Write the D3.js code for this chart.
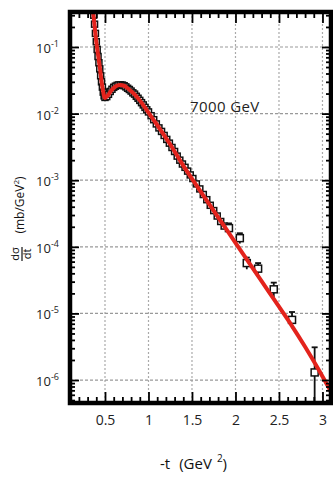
<!DOCTYPE html>
<html>
<head>
<meta charset="utf-8">
<script src="https://cdn.jsdelivr.net/npm/d3@7"></script>
<style>
  body { margin: 0; background: #fff; }
  svg { display: block; font-family: "Open Sans", sans-serif; }
</style>
</head>
<body>
<svg id="chart" width="333" height="477"></svg>
<script>
// tick values
const xMajor = [0.5, 1, 1.5, 2, 2.5, 3];
const xLabels = ["0.5", "1", "1.5", "2", "2.5", "3"];
const yExponents = [-1, -2, -3, -4, -5, -6];

// model curve (red)
const modelT = [0.33, 0.36, 0.40, 0.44, 0.47, 0.50, 0.53, 0.57, 0.62, 0.67, 0.72, 0.78, 0.84, 0.90, 0.98, 1.06, 1.132, 1.247, 1.38, 1.511, 1.70, 1.90, 2.10, 2.30, 2.50, 2.65, 2.80, 2.95, 3.10, 3.20];
const modelSigma = [0.60, 0.36, 0.12, 0.050, 0.025, 0.0172, 0.0185, 0.022, 0.0255, 0.0268, 0.0262, 0.0228, 0.0195, 0.0158, 0.0113, 0.0080, 5.87e-3, 3.5e-3, 1.82e-3, 1.0e-3, 4.34e-4, 1.79e-4, 7.4e-5, 3.05e-5, 1.26e-5, 6.46e-6, 3.16e-6, 1.48e-6, 6.6e-7, 3.8e-7];

// dense data points (7000 GeV)
const denseT = [0.37, 0.38, 0.39, 0.40, 0.41, 0.42, 0.43, 0.44, 0.45, 0.46, 0.47, 0.48, 0.49, 0.50, 0.52, 0.54, 0.56, 0.58, 0.60, 0.62, 0.64, 0.66, 0.68, 0.70, 0.72, 0.74, 0.76, 0.78, 0.80, 0.82, 0.84, 0.86, 0.88, 0.90, 0.92, 0.94, 0.96, 0.98, 1.00, 1.03, 1.06, 1.09, 1.12, 1.15, 1.18, 1.21, 1.24, 1.27, 1.30, 1.33, 1.36, 1.39, 1.42, 1.45, 1.48, 1.51, 1.55, 1.59, 1.63, 1.67, 1.71, 1.75, 1.79, 1.83, 1.87];
const denseSigma = [0.30, 0.22, 0.16, 0.12, 0.092, 0.072, 0.058, 0.047, 0.037, 0.030, 0.025, 0.021, 0.0185, 0.0175, 0.0180, 0.0195, 0.0215, 0.0232, 0.0248, 0.0258, 0.0266, 0.0270, 0.0270, 0.0268, 0.0262, 0.0252, 0.0240, 0.0230, 0.0218, 0.0205, 0.0196, 0.0182, 0.0170, 0.0158, 0.0146, 0.0135, 0.0124, 0.0114, 0.0106, 0.0093, 0.0081, 0.0070, 0.0061, 0.0054, 0.0047, 0.0041, 0.0036, 0.0031, 0.0027, 0.0023, 0.0020, 0.00175, 0.00156, 0.00137, 0.00120, 0.00106, 0.00088, 0.00074, 0.00061, 0.00051, 0.00042, 0.00035, 0.00029, 0.00024, 0.000205];

// sparse data points at large |t|
const sparseT = [1.925, 2.05, 2.13, 2.26, 2.44, 2.65, 2.91];
const sparseSigma = [1.91e-4, 1.35e-4, 5.7e-5, 4.7e-5, 2.3e-5, 8.0e-6, 1.3e-6];
const sparseLo = [1.6e-4, 1.12e-4, 4.6e-5, 3.8e-5, 1.75e-5, 6.0e-6, 1e-8];
const sparseHi = [2.25e-4, 1.6e-4, 6.9e-5, 5.7e-5, 2.9e-5, 1.05e-5, 3.1e-6];

const svg = d3.select("#chart");
const L = 70, R = 331, T = 12, B = 403;

const x = d3.scaleLinear().domain([0.0977, 3.098]).range([L, R]);
const y = d3.scaleLog().domain([4.52e-7, 0.3353]).range([B, T]);

const yMajor = yExponents.map(e => Math.pow(10, e));
const xMinor = d3.range(1, 31).map(i => i / 10).filter(v => !xMajor.includes(v));
const yMinor = [];
for (let e = -7; e <= 0; e++) for (let k = 2; k <= 9; k++) {
  const v = k * Math.pow(10, e);
  if (v > 4.52e-7 && v < 0.3353) yMinor.push(v);
}

// grid
svg.append("g").selectAll("line").data(xMajor).join("line")
  .attr("x1", d => x(d)).attr("x2", d => x(d))
  .attr("y1", T).attr("y2", B)
  .attr("stroke", "#aaa").attr("stroke-width", 1.2).attr("stroke-dasharray", "2,2");
svg.append("g").selectAll("line").data(yMajor).join("line")
  .attr("x1", L).attr("x2", R)
  .attr("y1", d => y(d)).attr("y2", d => y(d))
  .attr("stroke", "#999").attr("stroke-width", 1.2).attr("stroke-dasharray", "3,2");

svg.append("clipPath").attr("id", "clip")
  .append("rect").attr("x", L).attr("y", T).attr("width", R - L).attr("height", B - T);

const plot = svg.append("g").attr("clip-path", "url(#clip)");

// data points
const dense = denseT.map((t, i) => ({ t, s: denseSigma[i], size: 6 }));
const sparse = sparseT.map((t, i) => ({ t, s: sparseSigma[i], lo: sparseLo[i], hi: sparseHi[i], size: 7 }));

plot.append("g").selectAll("line").data(sparse).join("line")
  .attr("x1", d => x(d.t)).attr("x2", d => x(d.t))
  .attr("y1", d => y(d.lo)).attr("y2", d => y(d.hi))
  .attr("stroke", "#111").attr("stroke-width", 1.8);
plot.append("g").selectAll("line").data(sparse).join("line")
  .attr("x1", d => x(d.t) - 3).attr("x2", d => x(d.t) + 3)
  .attr("y1", d => y(d.hi)).attr("y2", d => y(d.hi))
  .attr("stroke", "#111").attr("stroke-width", 1.8);

plot.append("g").selectAll("rect").data(dense.concat(sparse)).join("rect")
  .attr("x", d => x(d.t) - d.size / 2).attr("y", d => y(d.s) - d.size / 2)
  .attr("width", d => d.size).attr("height", d => d.size)
  .attr("fill", "#fff").attr("stroke", "#111").attr("stroke-width", 1.5);

// model line
const model = modelT.map((t, i) => ({ t, s: modelSigma[i] }));
plot.append("path").datum(model)
  .attr("fill", "none").attr("stroke", "#e3231c").attr("stroke-width", 4)
  .attr("stroke-linejoin", "round")
  .attr("d", d3.line().x(d => x(d.t)).y(d => y(d.s)).curve(d3.curveMonotoneX));

// axes
function styleAxis(g) {
  g.select(".domain").remove();
  g.selectAll(".tick line").attr("stroke", "#000").attr("stroke-width", 1.8);
}
svg.append("g").attr("transform", `translate(0,${B})`)
  .call(d3.axisBottom(x).tickValues(xMinor).tickSize(-6).tickFormat("")).call(styleAxis);
svg.append("g").attr("transform", `translate(0,${B})`)
  .call(d3.axisBottom(x).tickValues(xMajor).tickSize(-11).tickPadding(12)
    .tickFormat((d, i) => xLabels[i]))
  .call(styleAxis)
  .call(g => g.selectAll("text").attr("font-size", 14).attr("fill", "#222")
    .attr("font-family", "Open Sans, sans-serif"));
svg.append("g").attr("transform", `translate(0,${T})`)
  .call(d3.axisTop(x).tickValues(xMinor).tickSize(-6).tickFormat("")).call(styleAxis);
svg.append("g").attr("transform", `translate(0,${T})`)
  .call(d3.axisTop(x).tickValues(xMajor).tickSize(-11).tickFormat("")).call(styleAxis);

svg.append("g").attr("transform", `translate(${L},0)`)
  .call(d3.axisLeft(y).tickValues(yMinor).tickSize(-5).tickFormat("")).call(styleAxis);
svg.append("g").attr("transform", `translate(${L},0)`)
  .call(d3.axisLeft(y).tickValues(yMajor).tickSize(-9).tickFormat("")).call(styleAxis);
svg.append("g").attr("transform", `translate(${R},0)`)
  .call(d3.axisRight(y).tickValues(yMinor).tickSize(-5).tickFormat("")).call(styleAxis);
svg.append("g").attr("transform", `translate(${R},0)`)
  .call(d3.axisRight(y).tickValues(yMajor).tickSize(-9).tickFormat("")).call(styleAxis);

// frame
svg.append("rect").attr("x", L).attr("y", T).attr("width", R - L).attr("height", B - T)
  .attr("fill", "none").attr("stroke", "#000").attr("stroke-width", 4.5);

// y tick labels 10^n
const yl = svg.append("g").selectAll("text").data(yExponents).join("text")
  .attr("x", 59).attr("y", e => y(Math.pow(10, e)) + 6)
  .attr("text-anchor", "end").attr("fill", "#222").attr("font-size", 13);
yl.append("tspan").text("10");
yl.append("tspan").attr("dy", -6).attr("font-size", 9).text(e => "-" + Math.abs(e));

// annotation
svg.append("text").attr("x", 190).attr("y", 112)
  .attr("font-size", 15).attr("letter-spacing", 0.4).attr("fill", "#222").text("7000 GeV");

// x title
const xt = svg.append("text").attr("x", 160).attr("y", 469)
  .attr("font-size", 15).attr("fill", "#111");
xt.append("tspan").text("-t");
xt.append("tspan").attr("dx", 9).text("(GeV");
xt.append("tspan").attr("dx", 5).attr("dy", -7).attr("font-size", 10).text("2");
xt.append("tspan").attr("dy", 7).text(")");

// y title
const yt = svg.append("g").attr("transform", "translate(21,254) rotate(-90)");
yt.append("text").attr("x", 0).attr("y", -2).attr("text-anchor", "middle")
  .attr("font-size", 11).attr("fill", "#111").text("dσ");
yt.append("line").attr("x1", -7).attr("x2", 7).attr("y1", 1).attr("y2", 1)
  .attr("stroke", "#111").attr("stroke-width", 1.2);
yt.append("text").attr("x", 0).attr("y", 10).attr("text-anchor", "middle")
  .attr("font-size", 11).attr("fill", "#111").text("dt");
const yt2 = svg.append("text").attr("transform", "translate(24,205) rotate(-90)")
  .attr("text-anchor", "middle").attr("font-size", 12).attr("fill", "#111");
yt2.append("tspan").text("(mb/GeV");
yt2.append("tspan").attr("dy", -5).attr("font-size", 8).text("2");
yt2.append("tspan").attr("dy", 5).text(")");
</script>
</body>
</html>
